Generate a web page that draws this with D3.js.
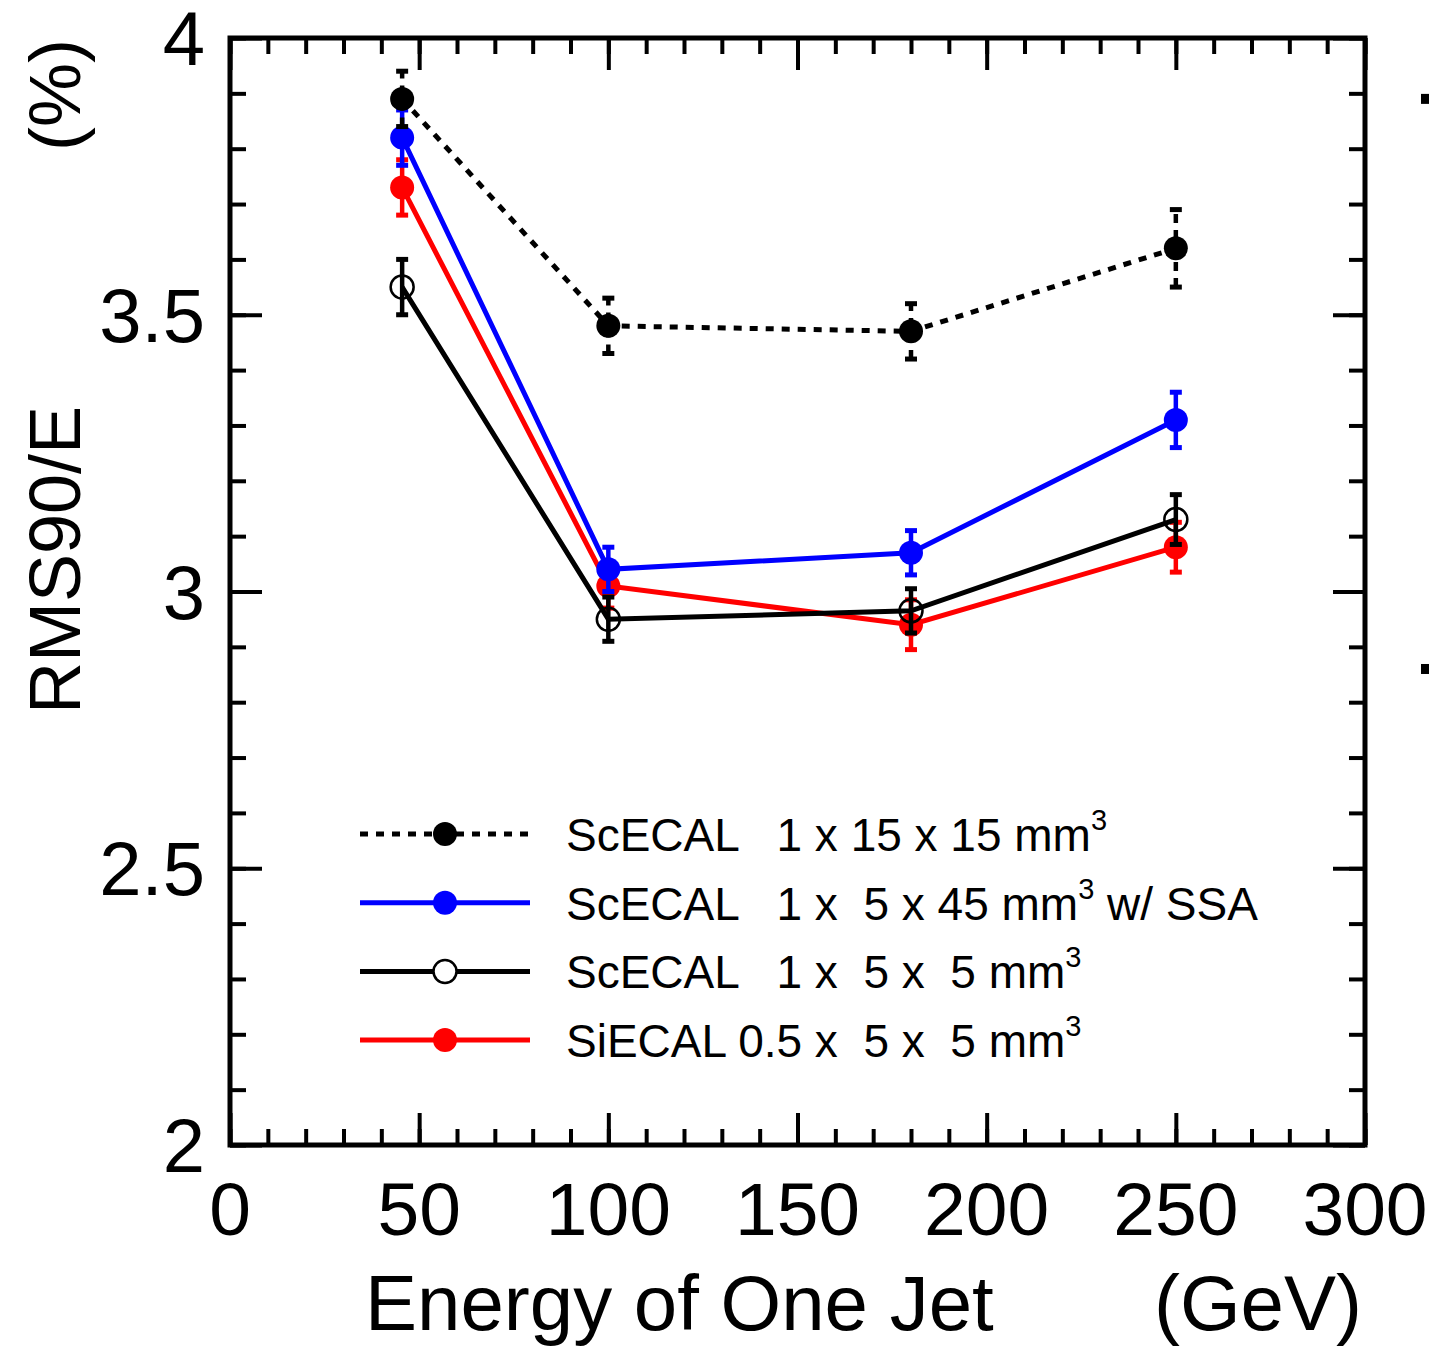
<!DOCTYPE html>
<html>
<head>
<meta charset="utf-8">
<style>
  body { margin: 0; background: #fff; }
  svg { display: block; font-family: 'Liberation Sans', Arial, sans-serif; }
</style>
</head>
<body>
<svg width="1433" height="1347"></svg>
<script src="https://d3js.org/d3.v7.min.js"></script>
<script>
// values
const energy = [45.5, 100, 180, 250];

const sc15 = [3.89, 3.48, 3.47, 3.62];
const sc15Err = [0.05, 0.05, 0.05, 0.07];

const sc545 = [3.82, 3.04, 3.07, 3.31];
const sc545Err = [0.05, 0.04, 0.04, 0.05];

const sc5 = [3.55, 2.95, 2.965, 3.13];
const sc5Err = [0.05, 0.04, 0.04, 0.045];

const si5 = [3.73, 3.01, 2.94, 3.08];
const si5Err = [0.05, 0.04, 0.045, 0.045];

const xTicks = [0, 50, 100, 150, 200, 250, 300];
const yTicks = [2, 2.5, 3, 3.5, 4];

const legendLabels = [
  ["ScECAL   1 x 15 x 15 mm", ""],
  ["ScECAL   1 x  5 x 45 mm", " w/ SSA"],
  ["ScECAL   1 x  5 x  5 mm", ""],
  ["SiECAL 0.5 x  5 x  5 mm", ""]
];

const series = [
  { name: "si", vals: si5, err: si5Err, color: "#ff0000", dash: null, open: false, leg: 3 },
  { name: "sc545", vals: sc545, err: sc545Err, color: "#0000ff", dash: null, open: false, leg: 1 },
  { name: "sc5", vals: sc5, err: sc5Err, color: "#000", dash: null, open: true, leg: 2 },
  { name: "sc15", vals: sc15, err: sc15Err, color: "#000", dash: "8,8", open: false, leg: 0 }
];

const svg = d3.select("svg");
const pLeft = 230, pRight = 1365, pTop = 38, pBottom = 1145;

const x = d3.scaleLinear().domain([0, 300]).range([pLeft, pRight]);
const y = d3.scaleLinear().domain([2, 4]).range([pBottom, pTop]);

// inward ticks on all four sides
function ticks(axisFn, scale, vals, size, transform) {
  const g = svg.append("g")
    .attr("transform", transform)
    .call(axisFn(scale).tickValues(vals).tickSize(-size).tickFormat(""));
  g.select(".domain").remove();
  g.selectAll("line").attr("stroke", "#000").attr("stroke-width", 4);
}
const xMinor = d3.range(0, 301, 10), xMajor = d3.range(0, 301, 50);
const yMinor = d3.range(20, 41, 1).map(d => d / 10), yMajor = yTicks;

ticks(d3.axisBottom, x, xMinor, 16, `translate(0,${pBottom})`);
ticks(d3.axisBottom, x, xMajor, 32, `translate(0,${pBottom})`);
ticks(d3.axisTop, x, xMinor, 16, `translate(0,${pTop})`);
ticks(d3.axisTop, x, xMajor, 32, `translate(0,${pTop})`);
ticks(d3.axisLeft, y, yMinor, 16, `translate(${pLeft},0)`);
ticks(d3.axisLeft, y, yMajor, 32, `translate(${pLeft},0)`);
ticks(d3.axisRight, y, yMinor, 16, `translate(${pRight},0)`);
ticks(d3.axisRight, y, yMajor, 32, `translate(${pRight},0)`);

svg.append("rect")
  .attr("x", pLeft).attr("y", pTop)
  .attr("width", pRight - pLeft).attr("height", pBottom - pTop)
  .attr("fill", "none").attr("stroke", "#000").attr("stroke-width", 5);

// tick labels
svg.append("g").selectAll("text").data(xTicks).join("text")
  .attr("x", d => x(d)).attr("y", 1235)
  .attr("text-anchor", "middle").attr("font-size", 75)
  .text(d => d);

svg.append("g").selectAll("text").data(yTicks).join("text")
  .attr("x", 205).attr("y", d => y(d) + 27)
  .attr("text-anchor", "end").attr("font-size", 76)
  .text(d => d);

// axis titles
svg.append("text").attr("x", 365).attr("y", 1330)
  .attr("font-size", 78).text("Energy of One Jet");
svg.append("text").attr("x", 1362).attr("y", 1330)
  .attr("text-anchor", "end").attr("font-size", 78).text("(GeV)");

svg.append("text").attr("transform", "translate(80,560) rotate(-90)")
  .attr("text-anchor", "middle").attr("font-size", 72).text("RMS90/E");
svg.append("text").attr("transform", "translate(80,95) rotate(-90)")
  .attr("text-anchor", "middle").attr("font-size", 72).text("(%)");

// data
const line = d3.line().x(d => x(d[0])).y(d => y(d[1]));

series.forEach(s => {
  const pts = energy.map((e, i) => [e, s.vals[i], s.err[i]]);
  const g = svg.append("g");

  g.append("path").datum(pts)
    .attr("d", line)
    .attr("fill", "none").attr("stroke", s.color)
    .attr("stroke-width", 5)
    .attr("stroke-dasharray", s.dash);

  g.selectAll(".err").data(pts).join("line")
    .attr("class", "err")
    .attr("x1", d => x(d[0])).attr("x2", d => x(d[0]))
    .attr("y1", d => y(d[1] - d[2])).attr("y2", d => y(d[1] + d[2]))
    .attr("stroke", s.color).attr("stroke-width", 4.5)
    .attr("stroke-dasharray", s.dash ? "9,7" : null);

  g.selectAll(".cap").data(pts.flatMap(d => [d[1] - d[2], d[1] + d[2]].map(v => [d[0], v])))
    .join("line")
    .attr("class", "cap")
    .attr("x1", d => x(d[0]) - 6).attr("x2", d => x(d[0]) + 6)
    .attr("y1", d => y(d[1])).attr("y2", d => y(d[1]))
    .attr("stroke", s.color).attr("stroke-width", 5);

  g.selectAll("circle").data(pts).join("circle")
    .attr("cx", d => x(d[0])).attr("cy", d => y(d[1]))
    .attr("r", s.open ? 11.5 : 12)
    .attr("fill", s.open ? "none" : s.color)
    .attr("stroke", s.color).attr("stroke-width", s.open ? 2.5 : 0);

  // legend entry
  const ly = 834 + s.leg * 68.7;
  const lg = svg.append("g");
  lg.append("line").attr("x1", 360).attr("x2", 530).attr("y1", ly).attr("y2", ly)
    .attr("stroke", s.color).attr("stroke-width", 5)
    .attr("stroke-dasharray", s.dash);
  lg.append("circle").attr("cx", 445).attr("cy", ly).attr("r", s.open ? 11.5 : 12)
    .attr("fill", s.open ? "#fff" : s.color)
    .attr("stroke", s.color).attr("stroke-width", s.open ? 2.5 : 0);
  const lab = legendLabels[s.leg];
  const t = lg.append("text").attr("x", 566).attr("y", ly + 17)
    .attr("font-size", 46).attr("xml:space", "preserve").style("white-space", "pre");
  t.append("tspan").text(lab[0]);
  t.append("tspan").attr("font-size", 29).attr("dy", -21).text("3");
  if (lab[1]) t.append("tspan").attr("dy", 21).attr("font-size", 46).text(lab[1]);
});

// edge of the neighbouring panel
svg.append("g").selectAll("rect").data([3.89, 2.86]).join("rect")
  .attr("x", 1421).attr("y", d => y(d) - 5).attr("width", 8).attr("height", 10)
  .attr("fill", "#000");
</script>
</body>
</html>
